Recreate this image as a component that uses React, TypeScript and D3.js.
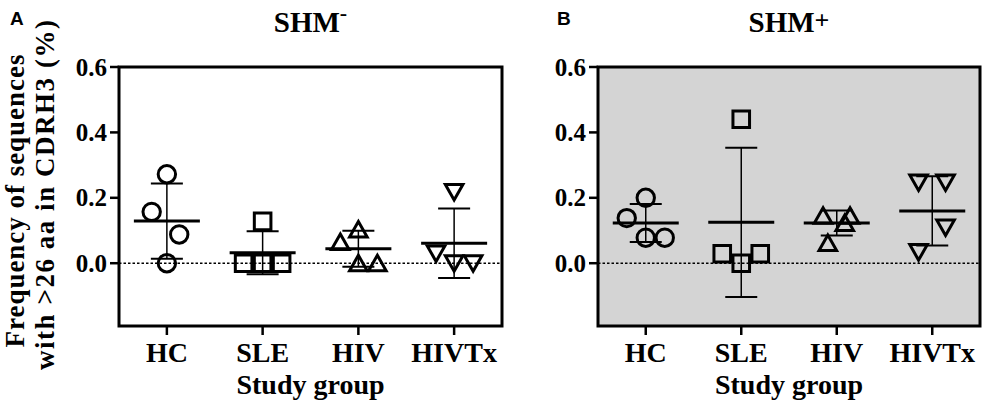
import * as d3 from "d3"

// study groups on the x axis
const groups = ["HC", "SLE", "HIV", "HIVTx"]
const yTicks = [0, 0.2, 0.4, 0.6]

// SHM- panel: individual subjects per group, then mean and SD
const shmNegValues = [
	[0.272, 0.157, 0.088, 0.0],
	[0.128, 0.0, 0.0, 0.0],
	[0.103, 0.065, 0.0, 0.0],
	[0.218, 0.03, 0.0, 0.0],
]
const shmNegDodge = [
	[0, -0.8, 0.65, 0],
	[0, -1, 0, 1],
	[0, -0.95, 0, 1],
	[0, -0.95, 0, 1],
]
const shmNegMean = [0.129, 0.032, 0.044, 0.061]
const shmNegSd = [0.115, 0.066, 0.055, 0.106]

// SHM+ panel
const shmPosValues = [
	[0.2, 0.138, 0.078, 0.078],
	[0.44, 0.029, 0.029, 0.0],
	[0.145, 0.145, 0.123, 0.062],
	[0.247, 0.247, 0.109, 0.034],
]
const shmPosDodge = [
	[0, -1, 0, 1],
	[0, -1, 1, 0],
	[-0.72, 0.7, 0.42, -0.47],
	[-0.72, 0.7, 0.7, -0.72],
]
const shmPosMean = [0.123, 0.125, 0.123, 0.16]
const shmPosSd = [0.058, 0.228, 0.038, 0.106]

const serif = "'Liberation Serif', 'Times New Roman', serif"
const sans = "'Liberation Sans', Arial, sans-serif"

const top = 67
const bottom = 326
const symbolStep = 19

const y = d3.scaleLinear().domain([-0.192, 0.6]).range([bottom, top])

// outline symbol drawn around (0,0)
const symbolPath = (i: number) => {
	const p = d3.path()
	if (i === 0) {
		p.arc(0, 0, 8.7, 0, Math.PI * 2)
	} else if (i === 1) {
		p.rect(-8.3, -8.3, 16.6, 16.6)
	} else if (i === 2) {
		p.moveTo(0, -8)
		p.lineTo(8.8, 7.5)
		p.lineTo(-8.8, 7.5)
		p.closePath()
	} else {
		p.moveTo(0, 8)
		p.lineTo(8.8, -7.5)
		p.lineTo(-8.8, -7.5)
		p.closePath()
	}
	return p.toString()
}

type PanelProps = {
	x0: number
	x1: number
	letter: string
	letterX: number
	title: string
	sup: string
	supDy: number
	supSize: number
	fill: string
	values: number[][]
	dodge: number[][]
	mean: number[]
	sd: number[]
}

const Panel = (props: PanelProps) => {
	const { x0, x1, values, dodge, mean, sd } = props
	const x = d3.scalePoint<string>().domain(groups).range([x0, x1]).padding(0.5)
	const cx = (x0 + x1) / 2

	return (
		<g>
			<text x={props.letterX} y={25} fontFamily={sans} fontWeight="bold" fontSize={19}>
				{props.letter}
			</text>
			<text x={cx} y={32} textAnchor="middle" fontFamily={serif} fontWeight="bold" fontSize={29}>
				{props.title}
				<tspan fontSize={props.supSize} dy={props.supDy}>
					{props.sup}
				</tspan>
			</text>

			<rect x={x0} y={top} width={x1 - x0} height={bottom - top} fill={props.fill} stroke="black" strokeWidth={3} />

			{/* zero reference */}
			<line x1={x0} x2={x1} y1={y(0)} y2={y(0)} stroke="black" strokeWidth={1.4} strokeDasharray="2.5,2" />

			{yTicks.map((t) => (
				<g key={t}>
					<line x1={x0 - 9} x2={x0} y1={y(t)} y2={y(t)} stroke="black" strokeWidth={2.5} />
					<text
						x={x0 - 12}
						y={y(t)}
						dy="0.34em"
						textAnchor="end"
						fontFamily={serif}
						fontWeight="bold"
						fontSize={25}
					>
						{d3.format(".1f")(t)}
					</text>
				</g>
			))}

			{groups.map((g, i) => {
				const gx = x(g) as number
				const lo = y(mean[i] - sd[i])
				const hi = y(mean[i] + sd[i])
				return (
					<g key={g}>
						<line x1={gx} x2={gx} y1={bottom} y2={bottom + 9} stroke="black" strokeWidth={2.5} />
						<text x={gx} y={362} textAnchor="middle" fontFamily={serif} fontWeight="bold" fontSize={28}>
							{g}
						</text>

						{values[i].map((v, j) => (
							<path
								key={j}
								d={symbolPath(i)}
								transform={`translate(${gx + dodge[i][j] * symbolStep},${y(v)})`}
								fill="none"
								stroke="black"
								strokeWidth={3}
							/>
						))}

						<line x1={gx} x2={gx} y1={lo} y2={hi} stroke="black" strokeWidth={1.5} />
						<line x1={gx - 16} x2={gx + 16} y1={hi} y2={hi} stroke="black" strokeWidth={2} />
						<line x1={gx - 16} x2={gx + 16} y1={lo} y2={lo} stroke="black" strokeWidth={2} />
						<line x1={gx - 33} x2={gx + 33} y1={y(mean[i])} y2={y(mean[i])} stroke="black" strokeWidth={3} />
					</g>
				)
			})}

			<text x={cx} y={394} textAnchor="middle" fontFamily={serif} fontWeight="bold" fontSize={28}>
				Study group
			</text>
		</g>
	)
}

const App = () => {
	return (
		<svg
			width={992}
			height={407}
			style={{ position: "absolute", left: 0, top: 0, background: "white" }}
		>
			<text
				transform="translate(24,201) rotate(-90)"
				textAnchor="middle"
				fontFamily={serif}
				fontWeight="bold"
				fontSize={27}
				textLength={293}
				lengthAdjust="spacing"
			>
				Frequency of sequences
			</text>
			<text
				transform="translate(54,195) rotate(-90)"
				textAnchor="middle"
				fontFamily={serif}
				fontWeight="bold"
				fontSize={27}
				textLength={350}
				lengthAdjust="spacing"
			>
				with &gt;26 aa in CDRH3 (%)
			</text>

			<Panel
				x0={119}
				x1={502}
				letter="A"
				letterX={10}
				title="SHM"
				sup="-"
				supDy={-12}
				supSize={22}
				fill="white"
				values={shmNegValues}
				dodge={shmNegDodge}
				mean={shmNegMean}
				sd={shmNegSd}
			/>
			<Panel
				x0={598}
				x1={980}
				letter="B"
				letterX={557}
				title="SHM"
				sup="+"
				supDy={-3}
				supSize={26}
				fill="#d4d4d4"
				values={shmPosValues}
				dodge={shmPosDodge}
				mean={shmPosMean}
				sd={shmPosSd}
			/>
		</svg>
	)
}

export default App
